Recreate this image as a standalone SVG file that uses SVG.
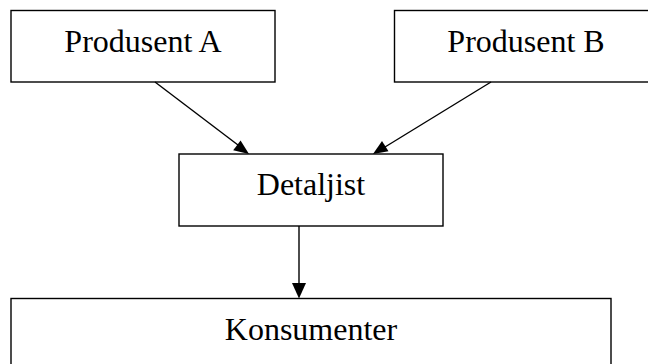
<svg xmlns="http://www.w3.org/2000/svg" width="648" height="364" viewBox="0 0 648 364">
<style>
.box{fill:#fff;stroke:#000;stroke-width:1.4}
.lbl{font-family:"Liberation Serif","Times New Roman",serif;font-size:32px;fill:#000;text-anchor:middle}
.con{stroke:#000;stroke-width:1.4;fill:none}
</style>
<rect width="648" height="364" fill="#fff"/>
<g id="produsent-a"><rect class="box" x="11" y="10.5" width="264" height="71.5"/><text class="lbl" x="143" y="52">Produsent A</text></g>
<g id="produsent-b"><rect class="box" x="394.5" y="10.5" width="270" height="71.5"/><text class="lbl" x="526" y="52">Produsent B</text></g>
<g id="detaljist"><rect class="box" x="179" y="154" width="264" height="72"/><text class="lbl" x="311" y="195">Detaljist</text></g>
<g id="konsumenter"><rect class="box" x="11" y="298.5" width="600" height="80"/><text class="lbl" x="311" y="340">Konsumenter</text></g>
<g id="connectors">
<line class="con" x1="155" y1="82" x2="238" y2="145"/>
<polygon points="249,154 233.2,150.3 240.6,140.6"/>
<line class="con" x1="491" y1="82" x2="385" y2="147"/>
<polygon points="373,154 388.5,151.3 382,141"/>
<line class="con" x1="299" y1="226" x2="299" y2="285"/>
<polygon points="299,298.5 292,283 306,283"/>
</g>
</svg>
